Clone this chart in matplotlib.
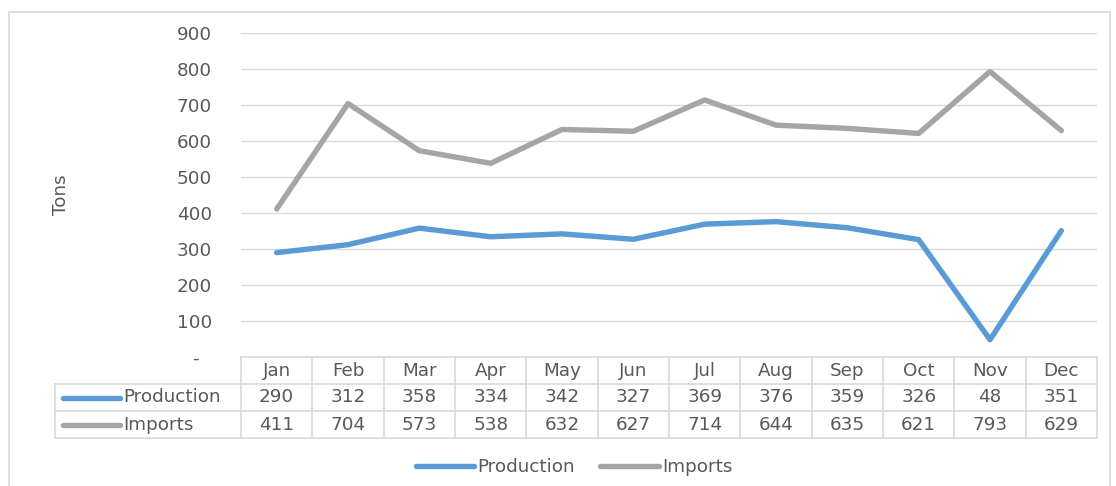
import matplotlib
matplotlib.use("Agg")
import matplotlib.pyplot as plt
from matplotlib.lines import Line2D
from matplotlib.patches import Rectangle
from matplotlib.transforms import blended_transform_factory
import numpy as np

months = ["Jan", "Feb", "Mar", "Apr", "May", "Jun", "Jul", "Aug", "Sep", "Oct", "Nov", "Dec"]
production = [290, 312, 358, 334, 342, 327, 369, 376, 359, 326, 48, 351]
imports = [411, 704, 573, 538, 632, 627, 714, 644, 635, 621, 793, 629]
series_names = ["Production", "Imports"]
series_colors = ["#5B9BD5", "#A5A5A5"]
y_ticks = [0, 100, 200, 300, 400, 500, 600, 700, 800, 900]
y_tick_labels = ["-  ", "100", "200", "300", "400", "500", "600", "700", "800", "900"]

W, H = 1116, 486
plt.rcParams['font.family'] = ['DejaVu Sans']
text_col = "#595959"
grid_col = "#D9D9D9"
fs = 13.2

fig = plt.figure(figsize=(W / 100, H / 100), dpi=100)


def fx(x):
    return x / W


def fy(y):
    return 1 - y / H


# chart border
fig.patches.append(Rectangle((fx(9), fy(495)), fx(1110) - fx(9), fy(12) - fy(495),
                             transform=fig.transFigure, fill=False, ec="#D9D9D9", lw=1.2))

left, right, top, bottom = 241, 1097, 33, 357
ax = fig.add_axes([fx(left), fy(bottom), fx(right) - fx(left), fy(top) - fy(bottom)])

x = np.arange(len(months)) + 0.5
for vals, name, col in zip([production, imports], series_names, series_colors):
    ax.plot(x, vals, color=col, lw=3.9, solid_capstyle="round", solid_joinstyle="round",
            label=name, zorder=3)

ax.set_xlim(0, len(months))
ax.set_ylim(0, 900)
ax.set_yticks(y_ticks)
ax.set_yticklabels(y_tick_labels)
ax.set_xticks([])
ax.tick_params(axis="y", length=0, pad=21, labelsize=fs, labelcolor=text_col)
ax.grid(axis="y", color=grid_col, lw=1)
for s in ax.spines.values():
    s.set_visible(False)
ax.set_ylabel("Tons", fontsize=fs, color=text_col, labelpad=0)
ax.yaxis.set_label_coords(-(241 - 70) / (right - left), 0.5)

# data table under the axes
tr = blended_transform_factory(ax.transData, fig.transFigure)
rows_y = [357, 384, 411, 438]
lkw = dict(color=grid_col, lw=1.2, clip_on=False)
for i in range(len(months) + 1):
    fig.add_artist(Line2D([i, i], [fy(rows_y[0]), fy(rows_y[-1])], transform=tr, **lkw))
fig.add_artist(Line2D([0, len(months)], [fy(rows_y[0])] * 2, transform=tr, **lkw))
for ry in rows_y[1:]:
    fig.add_artist(Line2D([fx(55), fx(right)], [fy(ry)] * 2, transform=fig.transFigure, **lkw))
fig.add_artist(Line2D([fx(55), fx(55)], [fy(rows_y[1]), fy(rows_y[-1])],
                      transform=fig.transFigure, **lkw))

tkw = dict(fontsize=fs, color=text_col, ha="center", va="center")
for i, m in enumerate(months):
    fig.text(x[i], fy((rows_y[0] + rows_y[1]) / 2), m, transform=tr, **tkw)
for r, (vals, name, col) in enumerate(zip([production, imports], series_names, series_colors)):
    yc = fy((rows_y[r + 1] + rows_y[r + 2]) / 2)
    for i, v in enumerate(vals):
        fig.text(x[i], yc, str(v), transform=tr, **tkw)
    fig.add_artist(Line2D([fx(63), fx(120)], [yc, yc], color=col, lw=3.9,
                          solid_capstyle="round", transform=fig.transFigure))
    fig.text(fx(123), yc, name, fontsize=fs, color=text_col, ha="left", va="center")

handles, labels = ax.get_legend_handles_labels()
fig.legend(handles, labels, loc="center", bbox_to_anchor=(fx(574), fy(467)), ncol=2,
           frameon=False, fontsize=fs, labelcolor=text_col, handlelength=3.2,
           handletextpad=0.15, columnspacing=1.4)

fig.savefig("out.png", dpi=100)
